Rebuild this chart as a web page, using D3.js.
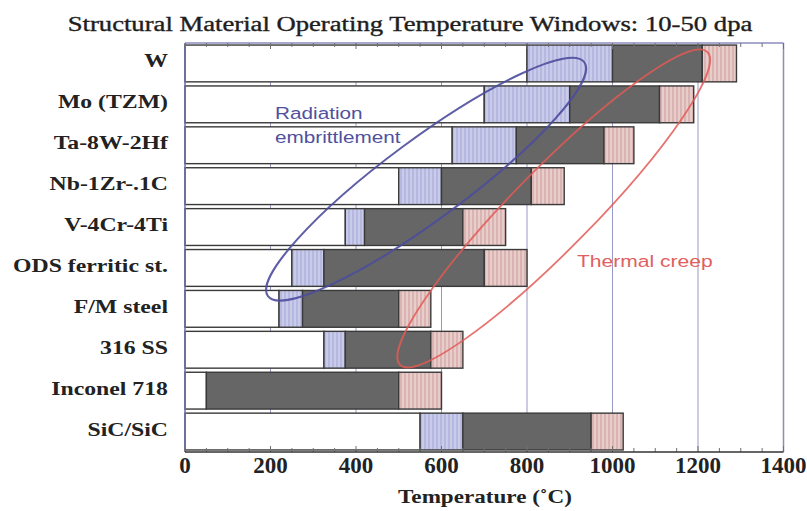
<!DOCTYPE html>
<html><head><meta charset="utf-8">
<script src="https://cdn.jsdelivr.net/npm/d3@7"></script>
<style>body{margin:0;background:#fff}svg{display:block}</style>
</head><body>
<svg id="c" width="807" height="511"></svg>
<script>
// ---- data ----
const materials = ["W","Mo (TZM)","Ta-8W-2Hf","Nb-1Zr-.1C","V-4Cr-4Ti","ODS ferritic st.","F/M steel","316 SS","Inconel 718","SiC/SiC"];
const embrittleLow  = [800, 700, 625, 500, 375, 250, 220, 325,  50, 550]; // start of lower uncertainty band
const embrittleHigh = [1000, 900, 775, 600, 420, 325, 275, 375, 50, 650]; // start of operating window
const creepLow      = [1210,1110, 980, 810, 650, 700, 500, 575, 500, 950]; // end of operating window
const creepHigh     = [1290,1190,1050, 887, 750, 800, 575, 650, 600,1025]; // end of upper uncertainty band
const xTicks = [0,200,400,600,800,1000,1200,1400];
const titleText = "Structural Material Operating Temperature Windows: 10-50 dpa";
const xTitle = "Temperature (˚C)";
const annotations = [
  {label:["Radiation","embrittlement"], from:[194,5.69], to:[934,-0.03]},
  {label:["Thermal creep"], from:[503,7.37], to:[1222,-0.28]}
];

// ---- layout ----
const svg = d3.select("#c");
const L=185, R=783.5, T=43, B=452;
const x = d3.scaleLinear().domain([0,1400]).range([L,R]);
const y = d3.scaleBand().domain(materials).range([T,B]).paddingInner(0.1).paddingOuter(0.05);
const yc = d3.scaleLinear().domain([0,materials.length-1]).range([y(materials[0])+y.bandwidth()/2, y(materials[materials.length-1])+y.bandwidth()/2]);

const defs = svg.append("defs");
function hatch(id,bg,line){
  const p = defs.append("pattern").attr("id",id).attr("patternUnits","userSpaceOnUse").attr("width",4).attr("height",4);
  p.append("rect").attr("width",4).attr("height",4).attr("fill",bg);
  p.append("line").attr("x1",1).attr("x2",1).attr("y1",0).attr("y2",4).attr("stroke",line).attr("stroke-width",1);
}
hatch("hb","#c9cbea","#a3a5d4");
hatch("hp","#e9cdcb","#c99c9a");

// gridlines
svg.append("g").selectAll("line").data(xTicks.filter(d=>d>0&&d<1400)).join("line")
  .attr("x1",d=>x(d)).attr("x2",d=>x(d)).attr("y1",T).attr("y2",B)
  .attr("stroke","#9898c6").attr("stroke-width",1);

// bars
const segs = [];
materials.forEach((m,i)=>{
  segs.push({m, x0:0, x1:embrittleLow[i], fill:"#ffffff"});
  segs.push({m, x0:embrittleLow[i], x1:embrittleHigh[i], fill:"url(#hb)"});
  segs.push({m, x0:embrittleHigh[i], x1:creepLow[i], fill:"#666666"});
  segs.push({m, x0:creepLow[i], x1:creepHigh[i], fill:"url(#hp)"});
});
svg.append("g").selectAll("rect").data(segs.filter(s=>s.x1>s.x0)).join("rect")
  .attr("x",d=>x(d.x0)).attr("width",d=>x(d.x1)-x(d.x0))
  .attr("y",d=>y(d.m)).attr("height",y.bandwidth())
  .attr("fill",d=>d.fill).attr("stroke","#3a3a3a").attr("stroke-width",1.4);

// frame & ticks
const minor = d3.range(0,1401,50);
svg.append("line").attr("x1",L).attr("x2",R).attr("y1",T).attr("y2",T).attr("stroke","#8c8cc0").attr("stroke-width",1.5);
svg.append("line").attr("x1",R).attr("x2",R).attr("y1",T).attr("y2",B).attr("stroke","#8c8cc0").attr("stroke-width",1.5);
svg.append("line").attr("x1",L).attr("x2",L).attr("y1",T).attr("y2",B).attr("stroke","#6e6eae").attr("stroke-width",1.5);
svg.append("g").selectAll("line").data(minor).join("line")
  .attr("x1",d=>x(d)).attr("x2",d=>x(d)).attr("y1",T).attr("y2",d=>T+(d%200===0?6:4))
  .attr("stroke","#707070").attr("stroke-width",1);
svg.append("g").selectAll("line").data(minor).join("line")
  .attr("x1",d=>x(d)).attr("x2",d=>x(d)).attr("y1",B).attr("y2",d=>B-(d%200===0?6:4))
  .attr("stroke","#707070").attr("stroke-width",1);
svg.append("line").attr("x1",L).attr("x2",R).attr("y1",B).attr("y2",B).attr("stroke","#333").attr("stroke-width",1.6);

// annotations (ellipses)
const ann = svg.append("g");
const annColors = ["#4d4d9c","#e25a55"];
annotations.forEach((a,k)=>{
  const x1=x(a.from[0]), y1=yc(a.from[1]), x2=x(a.to[0]), y2=yc(a.to[1]);
  const cx=(x1+x2)/2, cy=(y1+y2)/2, rx=Math.hypot(x2-x1,y2-y1)/2;
  const ang=Math.atan2(y2-y1,x2-x1)*180/Math.PI;
  ann.append("ellipse").attr("cx",0).attr("cy",0).attr("rx",rx).attr("ry",40)
    .attr("transform",`translate(${cx},${cy}) rotate(${ang})`)
    .attr("fill","none").attr("stroke",annColors[k]).attr("stroke-width",k?1.8:2).attr("opacity",k?0.85:0.9);
});

// text helper: draw stretched text
function stext(g, txt, tx, ty, opts){
  const gg = g.append("g").attr("transform",`translate(${tx},${ty})`);
  const t = gg.append("text").text(txt)
    .attr("font-family",opts.family||"'Liberation Serif','Times New Roman',serif")
    .attr("font-size",opts.size).attr("font-weight",opts.weight||"normal")
    .attr("fill",opts.fill||"#222").attr("text-anchor",opts.anchor||"start");
  if(opts.sw) t.attr("stroke",opts.fill||"#222").attr("stroke-width",opts.sw);
  let f = opts.stretch||1;
  if(opts.width){ f = opts.width / t.node().getComputedTextLength(); }
  t.attr("transform",`scale(${f},1)`);
  return f;
}
const tg = svg.append("g");
stext(tg, titleText, 410, 31, {size:20, width:685, anchor:"middle", fill:"#1e1e1e", sw:0.35});

// y labels
const yg = svg.append("g");
const probe = yg.append("text").text("ODS ferritic st.").attr("font-family","'Liberation Serif',serif").attr("font-size",18).attr("font-weight","bold");
const yf = 155/probe.node().getComputedTextLength(); probe.remove();
materials.forEach(m=>{
  stext(yg, m, 168, y(m)+y.bandwidth()/2+4, {size:18, weight:"bold", anchor:"end", stretch:yf, fill:"#222"});
});

// x tick labels
const xg = svg.append("g");
xTicks.forEach(d=>{ stext(xg, String(d), x(d), 473, {size:23, weight:"bold", anchor:"middle", stretch:1, fill:"#222"}); });
stext(xg, xTitle, 485, 503, {size:19, weight:"bold", anchor:"middle", width:174, fill:"#222"});

// annotation labels
const sans = "'Liberation Sans',Arial,sans-serif";
stext(ann, annotations[0].label[0], 275, 119, {family:sans, size:17, stretch:1.22, fill:"#50509e"});
stext(ann, annotations[0].label[1], 275, 143, {family:sans, size:17, stretch:1.22, fill:"#50509e"});
stext(ann, annotations[1].label[0], 577, 267, {family:sans, size:17, stretch:1.24, fill:"#e06060"});
</script>
</body></html>
